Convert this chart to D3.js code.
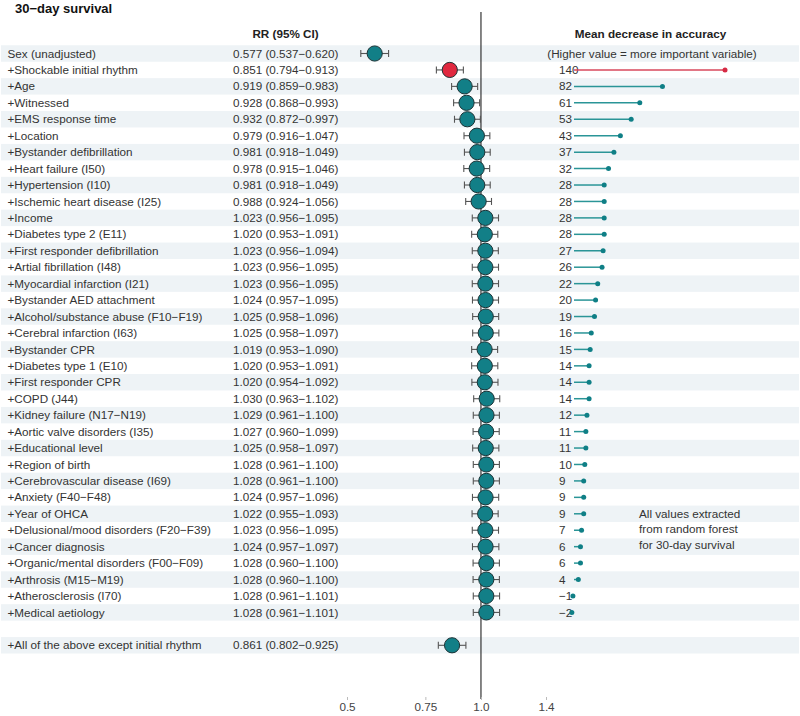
<!DOCTYPE html>
<html><head><meta charset="utf-8">
<script src="https://cdn.jsdelivr.net/npm/d3@7"></script>
<style>body{margin:0;background:#fff}svg{display:block;font-family:"Liberation Sans",Arial,sans-serif}</style>
</head><body><svg id="c" width="800" height="716"></svg>
<script>
const labels = ["Sex (unadjusted)","+Shockable initial rhythm","+Age","+Witnessed","+EMS response time","+Location","+Bystander defibrillation","+Heart failure (I50)","+Hypertension (I10)","+Ischemic heart disease (I25)","+Income","+Diabetes type 2 (E11)","+First responder defibrillation","+Artial fibrillation (I48)","+Myocardial infarction (I21)","+Bystander AED attachment","+Alcohol/substance abuse (F10\u2212F19)","+Cerebral infarction (I63)","+Bystander CPR","+Diabetes type 1 (E10)","+First responder CPR","+COPD (J44)","+Kidney failure (N17\u2212N19)","+Aortic valve disorders (I35)","+Educational level","+Region of birth","+Cerebrovascular disease (I69)","+Anxiety (F40\u2212F48)","+Year of OHCA","+Delusional/mood disorders (F20\u2212F39)","+Cancer diagnosis","+Organic/mental disorders (F00\u2212F09)","+Arthrosis (M15\u2212M19)","+Atherosclerosis (I70)","+Medical aetiology","","+All of the above except initial rhythm"];
const rr    = [0.577,0.851,0.919,0.928,0.932,0.979,0.981,0.978,0.981,0.988,1.023,1.020,1.023,1.023,1.023,1.024,1.025,1.025,1.019,1.020,1.020,1.030,1.029,1.027,1.025,1.028,1.028,1.024,1.022,1.023,1.024,1.028,1.028,1.028,1.028,null,0.861];
const lower = [0.537,0.794,0.859,0.868,0.872,0.916,0.918,0.915,0.918,0.924,0.956,0.953,0.956,0.956,0.956,0.957,0.958,0.958,0.953,0.953,0.954,0.963,0.961,0.960,0.958,0.961,0.961,0.957,0.955,0.956,0.957,0.960,0.960,0.961,0.961,null,0.802];
const upper = [0.620,0.913,0.983,0.993,0.997,1.047,1.049,1.046,1.049,1.056,1.095,1.091,1.094,1.095,1.095,1.095,1.096,1.097,1.090,1.091,1.092,1.102,1.100,1.099,1.097,1.100,1.100,1.096,1.093,1.095,1.097,1.100,1.100,1.101,1.101,null,0.925];
const mda   = [null,140,82,61,53,43,37,32,28,28,28,28,27,26,22,20,19,16,15,14,14,14,12,11,11,10,9,9,9,7,6,6,4,-1,-2,null,null];
const highlight = [false,true,false,false,false,false,false,false,false,false,false,false,false,false,false,false,false,false,false,false,false,false,false,false,false,false,false,false,false,false,false,false,false,false,false,false,false];
const tickValues = [0.5,0.75,1.0,1.4];
const tickLabels = ["0.5","0.75","1.0","1.4"];
const noteLines = ["All values extracted","from random forest","for 30-day survival"];

const fmt = d3.format(".3f");
const minus = s => s.replace(/-/g,"\u2212");
const rows = labels.map((l,i)=>({i,label:l,rr:rr[i],lo:lower[i],hi:upper[i],mda:mda[i],hl:highlight[i]}));

const FS = 11.7, DY = 4.1;
const svg = d3.select("#c");
const y = d3.scaleLinear().domain([0,36]).range([53.5,645.3]);
const rowH = 16.44;
const x = d3.scaleLog().domain([0.5,1.4]).range([347,546]);
const xm = d3.scaleLinear().domain([0,140]).range([574,725]);
const teal = "#127f87", red = "#e0283f", txt = "#333333";

// bands
svg.append("g").selectAll("rect").data(rows.filter(r=>r.i%2===0 && r.label!==""))
 .join("rect").attr("x",1).attr("width",798).attr("y",d=>y(d.i)-rowH/2).attr("height",rowH).attr("fill","#eef3f6");

// title and headers
svg.append("text").attr("x",15).attr("y",12.5).attr("font-size",13).attr("font-weight","bold").attr("fill","#111").text("30\u2212day survival");
svg.append("text").attr("x",285.5).attr("y",37.5).attr("text-anchor","middle").attr("font-size",FS).attr("font-weight","bold").attr("fill","#222").text("RR (95% CI)");
svg.append("text").attr("x",650.5).attr("y",37.5).attr("text-anchor","middle").attr("font-size",FS).attr("font-weight","bold").attr("fill","#222").text("Mean decrease in accuracy");
svg.append("text").attr("x",652).attr("y",y(0)+DY).attr("text-anchor","middle").attr("font-size",FS).attr("fill",txt).text("(Higher value = more important variable)");

// labels
const lab = svg.append("g").attr("font-size",FS).attr("fill",txt);
lab.selectAll(".lbl").data(rows.filter(r=>r.label!=="")).join("text").attr("x",7.5).attr("y",d=>y(d.i)+DY).text(d=>d.label);
lab.selectAll(".ci").data(rows.filter(r=>r.rr!=null)).join("text").attr("x",338.5).attr("y",d=>y(d.i)+DY).attr("text-anchor","end")
 .text(d=>`${fmt(d.rr)} (${fmt(d.lo)}\u2212${fmt(d.hi)})`);

// reference line
svg.append("line").attr("x1",x(1)).attr("x2",x(1)).attr("y1",12).attr("y2",699).attr("stroke","#222").attr("stroke-width",1.1);

// axis
const ax = svg.append("g").attr("transform","translate(0,697)")
 .call(d3.axisBottom(x).tickValues(tickValues).tickFormat((d,i)=>tickLabels[i]).tickSize(3).tickPadding(3));
ax.select(".domain").remove();
ax.selectAll("line").attr("stroke","#bbb");
ax.selectAll("text").attr("font-size",FS).attr("fill","#444").attr("font-family","Liberation Sans, Arial, sans-serif");

// whiskers
const pts = rows.filter(r=>r.rr!=null);
const wg = svg.append("g").attr("stroke","#555").attr("stroke-width",1.1).attr("fill","none");
wg.selectAll(".w").data(pts).join("line").attr("x1",d=>x(d.lo)).attr("x2",d=>x(d.hi)).attr("y1",d=>y(d.i)).attr("y2",d=>y(d.i));
wg.selectAll(".cl").data(pts).join("line").attr("x1",d=>x(d.lo)).attr("x2",d=>x(d.lo)).attr("y1",d=>y(d.i)-3.5).attr("y2",d=>y(d.i)+3.5);
wg.selectAll(".cr").data(pts).join("line").attr("x1",d=>x(d.hi)).attr("x2",d=>x(d.hi)).attr("y1",d=>y(d.i)-3.5).attr("y2",d=>y(d.i)+3.5);
svg.append("g").selectAll("circle").data(pts).join("circle").attr("cx",d=>x(d.rr)).attr("cy",d=>y(d.i)).attr("r",7.6)
 .attr("fill",d=>d.hl?red:teal).attr("stroke","#1d3336").attr("stroke-width",1);

// lollipops
const lp = rows.filter(r=>r.mda!=null);
svg.append("g").selectAll("text").data(lp).join("text").attr("x",559).attr("y",d=>y(d.i)+DY).attr("font-size",FS).attr("fill",txt).text(d=>minus(String(d.mda)));
svg.append("g").selectAll("line").data(lp).join("line").attr("x1",xm(0)).attr("x2",d=>xm(d.mda)).attr("y1",d=>y(d.i)).attr("y2",d=>y(d.i))
 .attr("stroke",d=>d.hl?"#d9485c":"#2a9597").attr("stroke-width",1.5);
svg.append("g").selectAll("circle").data(lp).join("circle").attr("cx",d=>xm(d.mda)).attr("cy",d=>y(d.i)).attr("r",2.5)
 .attr("fill",d=>d.hl?"#d62a44":"#0f7f86");

// note
svg.append("g").selectAll("text").data(noteLines).join("text").attr("x",639).attr("y",(d,i)=>518+i*15.3).attr("font-size",FS).attr("fill",txt).text(d=>d);
</script></body></html>
